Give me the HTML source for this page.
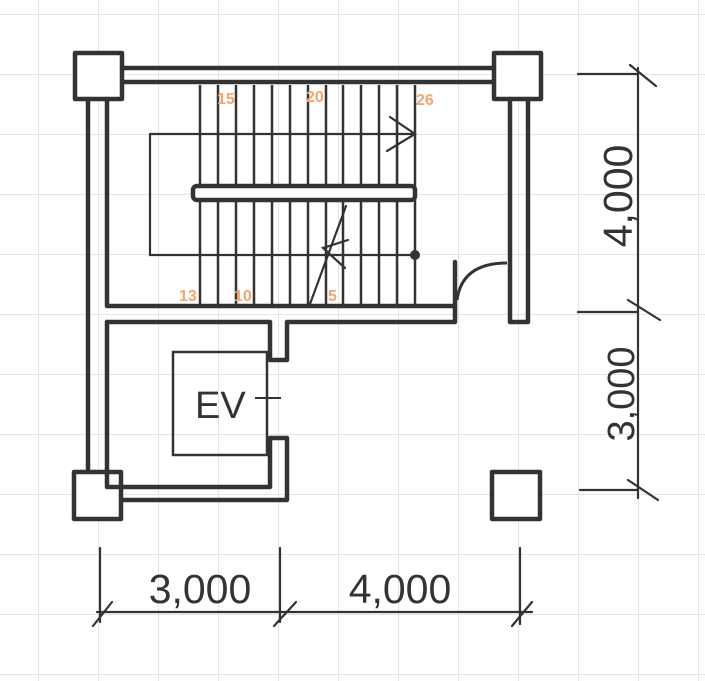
<!DOCTYPE html>
<html><head><style>html,body{margin:0;padding:0;background:#fff}svg{display:block}</style></head>
<body>
<svg width="705" height="681" viewBox="0 0 705 681" xmlns="http://www.w3.org/2000/svg">
<defs>
<pattern id="g" x="38" y="14" width="60" height="60" patternUnits="userSpaceOnUse">
<path d="M0 0H60M0 0V60" stroke="#dcdcdc" stroke-width="1.5" fill="none"/>
</pattern>
</defs>
<rect width="705" height="681" fill="#fff"/>
<rect width="705" height="681" fill="url(#g)"/>
<g stroke="#333" stroke-width="4.5" fill="none" stroke-linejoin="round" stroke-linecap="round">
<rect x="75" y="53" width="47" height="46" fill="#fff"/>
<rect x="494" y="53" width="47" height="46" fill="#fff"/>
<rect x="74" y="472" width="47" height="47" fill="#fff"/>
<rect x="492" y="472" width="48" height="47" fill="#fff"/>
<path d="M122 68H494M122 82H494"/>
<path d="M88 99V472M107 99V306H455V262"/>
<path d="M510 99V322H528V99"/>
<path d="M107 322H270V360H287V322H455V306"/>
<path d="M107 322V487H270V438H287V500H122"/>
</g>
<path d="M457 300 Q462 263 507 263" stroke="#333" stroke-width="3" fill="none"/>
<rect x="173" y="352" width="94" height="103" fill="none" stroke="#333" stroke-width="2.5"/>
<path d="M255 398H281" stroke="#333" stroke-width="2"/>
<text x="195" y="418" font-family="Liberation Sans, sans-serif" font-size="38" fill="#333">EV</text>
<g stroke="#333" stroke-width="2.5">
<path d="M200 85V306M218 85V306M236 85V306M254 85V306M272 85V306M290 85V306M308 85V306M326 85V306M343 85V306M361 85V306M379 85V306M397 85V306M415 85V306"/>
</g>
<rect x="193" y="186" width="222" height="14" rx="4" fill="#fff" stroke="#333" stroke-width="4.5"/>
<g stroke="#333" stroke-width="2.2" fill="none" stroke-linecap="round">
<path d="M150 134H415M150 134V255H415"/>
<path d="M390 117L415 134L387 151"/>
<path d="M346 206L310 304"/>
<path d="M348 240L323 248L345 268"/>
</g>
<circle cx="415" cy="255" r="5" fill="#333"/>
<g font-family="Liberation Sans, sans-serif" font-size="16" fill="#f4a46c" font-weight="600">
<text x="217" y="104">15</text>
<text x="306" y="102">20</text>
<text x="416" y="105">26</text>
<text x="179" y="301">13</text>
<text x="234" y="301">10</text>
<text x="328" y="301">5</text>
</g>
<g stroke="#333" stroke-width="2.2" fill="none" stroke-linecap="round">
<path d="M638 68V498"/>
<path d="M578 74H638M578 312H638M580 490H638"/>
<path d="M630 65L656 86M628 300L660 320M628 480L658 500"/>
<path d="M97 612H532"/>
<path d="M100 548V622M280 548V622M520 548V624"/>
<path d="M93 626L112 602M274 626L296 602M512 626L532 602"/>
</g>
<g font-family="Liberation Sans, sans-serif" font-size="41" fill="#333">
<text transform="translate(632,196) rotate(-90)" text-anchor="middle">4,000</text>
<text transform="translate(634,394) rotate(-90)" text-anchor="middle" font-size="38">3,000</text>
<text x="200" y="603" text-anchor="middle">3,000</text>
<text x="400" y="603" text-anchor="middle">4,000</text>
</g>
</svg>
</body></html>
